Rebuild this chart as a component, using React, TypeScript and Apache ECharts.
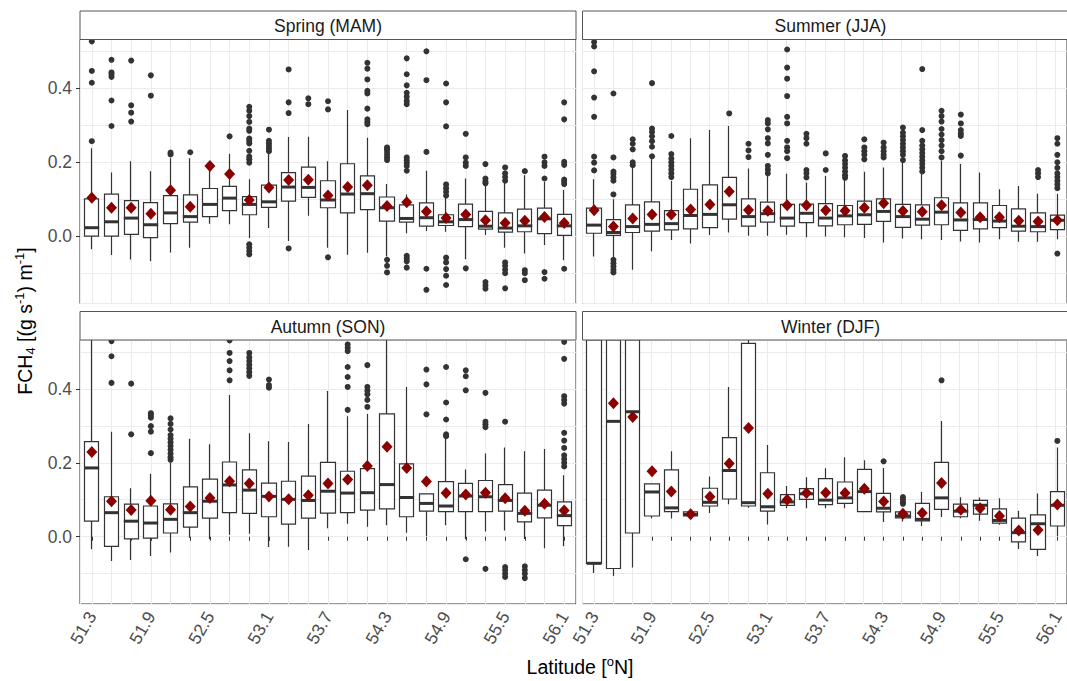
import React, { useEffect, useRef } from "react";
import * as echarts from "echarts";

const latitudes = ["51.3","51.5","51.7","51.9","52.1","52.3","52.5","52.7","52.9","53.1","53.3","53.5","53.7","53.9","54.1","54.3","54.5","54.7","54.9","55.1","55.3","55.5","55.7","55.9","56.1"];
const yTickValues = [0, 0.2, 0.4];

// ---------- Spring (MAM) ----------
const springLo = [-0.035,-0.051,-0.063,-0.068,-0.044,-0.031,0.034,0.032,-0.005,0.022,-0.013,0.055,-0.031,-0.05,-0.045,-0.055,0.008,0.014,0.012,-0.062,0.003,-0.031,-0.047,-0.024,-0.065];
const springQ1 = [0.0,0.0,0.005,-0.004,0.034,0.038,0.053,0.069,0.058,0.078,0.095,0.105,0.077,0.063,0.072,0.041,0.038,0.027,0.029,0.026,0.019,0.011,0.012,0.007,0.002];
const springMed = [0.023,0.039,0.049,0.031,0.063,0.053,0.086,0.103,0.086,0.093,0.133,0.132,0.098,0.114,0.115,0.077,0.048,0.05,0.039,0.045,0.027,0.022,0.028,0.047,0.028];
const springQ3 = [0.101,0.114,0.096,0.091,0.11,0.112,0.129,0.135,0.107,0.138,0.172,0.187,0.15,0.196,0.163,0.106,0.085,0.09,0.058,0.087,0.067,0.063,0.073,0.076,0.059];
const springHi = [0.238,0.172,0.203,0.176,0.211,0.211,0.18,0.223,0.154,0.225,0.268,0.269,0.203,0.341,0.266,0.141,0.113,0.177,0.109,0.156,0.14,0.145,0.165,0.147,0.125];
const springMean = [0.104,0.077,0.077,0.061,0.124,0.08,0.19,0.168,0.098,0.132,0.152,0.153,0.11,0.133,0.138,0.082,0.092,0.067,0.049,0.059,0.043,0.036,0.042,0.052,0.036];
const springOut = [
  [0.257,0.415,0.447,0.527,0.545],
  [0.298,0.367,0.431,0.438,0.443,0.477],
  [0.31,0.334,0.354,0.475,0.535],
  [0.38,0.435],
  [0.221,0.226],
  [0.227],
  [],
  [0.27],
  [0.199,0.208,0.215,0.231,0.251,0.258,0.264,0.285,0.291,0.309,0.325,0.339,0.35,-0.022,-0.031,-0.04,-0.049],
  [0.23,0.237,0.244,0.251,0.258,0.288],
  [0.333,0.362,0.451,-0.033],
  [0.357,0.373],
  [0.343,0.365,-0.057],
  [],
  [0.303,0.309,0.316,0.345,0.386,0.393,0.424,0.453,0.469],
  [0.206,0.213,0.22,0.228,0.235,0.24,-0.064,-0.08,-0.098],
  [0.177,0.19,0.198,0.205,0.213,0.357,0.366,0.377,0.388,0.408,0.438,0.481,0.535,-0.053,-0.06,-0.068,-0.085],
  [0.228,0.422,0.5,-0.088,-0.145],
  [0.11,0.12,0.13,0.14,0.297,0.362,0.413,-0.058,-0.071,-0.089,-0.107,-0.132],
  [0.19,0.199,0.213,0.277,-0.087],
  [0.143,0.148,0.156,0.195,-0.124,-0.133,-0.142],
  [0.15,0.16,0.17,0.186,-0.071,-0.08,-0.09,-0.1,-0.141],
  [0.176,-0.092,-0.1,-0.119],
  [0.156,0.19,0.2,0.215,-0.097,-0.115],
  [0.141,0.147,0.153,0.193,0.201,0.316,0.362,-0.088],
];

// ---------- Summer (JJA) ----------
const summerLo = [-0.055,-0.058,-0.091,-0.041,-0.01,-0.02,0.003,0.01,0.001,0.001,0.004,-0.003,-0.001,-0.003,-0.005,-0.017,-0.006,-0.008,-0.01,-0.014,-0.017,-0.008,-0.015,-0.015,-0.008];
const summerQ1 = [0.008,0.002,0.01,0.014,0.017,0.02,0.023,0.046,0.027,0.038,0.027,0.037,0.028,0.031,0.032,0.04,0.024,0.03,0.031,0.016,0.02,0.023,0.014,0.012,0.018];
const summerMed = [0.03,0.01,0.026,0.032,0.034,0.056,0.059,0.085,0.053,0.061,0.049,0.062,0.049,0.055,0.058,0.067,0.053,0.046,0.065,0.044,0.045,0.041,0.027,0.026,0.043];
const summerQ3 = [0.076,0.045,0.085,0.093,0.069,0.127,0.139,0.159,0.101,0.092,0.086,0.087,0.088,0.083,0.095,0.101,0.086,0.085,0.104,0.09,0.09,0.083,0.074,0.063,0.057];
const summerHi = [0.154,0.1,0.186,0.208,0.15,0.265,0.287,0.298,0.183,0.168,0.169,0.145,0.163,0.154,0.174,0.186,0.199,0.168,0.204,0.195,0.172,0.127,0.136,0.115,0.115];
const summerMean = [0.07,0.026,0.048,0.059,0.059,0.072,0.086,0.121,0.071,0.069,0.084,0.084,0.07,0.069,0.077,0.089,0.068,0.066,0.084,0.064,0.051,0.051,0.042,0.04,0.043];
const summerOut = [
  [0.178,0.199,0.215,0.323,0.375,0.446,0.513,0.525,0.535],
  [0.113,0.15,0.159,0.168,0.175,0.213,0.386,-0.064,-0.073,-0.082,-0.091,-0.098],
  [0.192,0.2,0.235,0.25,0.262],
  [0.216,0.242,0.257,0.27,0.282,0.291,0.414],
  [0.16,0.17,0.18,0.19,0.2,0.21,0.222,0.271],
  [],
  [],
  [0.332],
  [0.214,0.232,0.25],
  [0.17,0.18,0.19,0.22,0.251,0.265,0.289,0.305,0.314],
  [0.211,0.23,0.24,0.258,0.305,0.323,0.379,0.426,0.456,0.505],
  [0.159,0.17,0.179,0.25,0.265,0.277],
  [0.179,0.224],
  [0.158,0.165,0.175,0.185,0.195,0.205,0.217],
  [0.208,0.22,0.23,0.24,0.262],
  [0.213,0.22,0.23,0.24,0.253],
  [0.206,0.22,0.23,0.24,0.25,0.26,0.27,0.28,0.294],
  [0.175,0.185,0.195,0.205,0.215,0.225,0.235,0.245,0.258,0.287,0.452],
  [0.213,0.23,0.245,0.26,0.275,0.29,0.31,0.325,0.339],
  [0.218,0.271,0.278,0.287,0.305,0.329],
  [],
  [],
  [],
  [0.16,0.17,0.179],
  [0.13,0.14,0.15,0.16,0.17,0.185,0.2,0.22,0.25,0.265,-0.047],
];

// ---------- Autumn (SON) ----------
const autumnLo = [-0.034,-0.066,-0.063,-0.052,-0.043,-0.003,-0.007,0.005,0.008,-0.028,-0.027,-0.036,0.023,0.035,0.027,0.031,0.011,0.002,0.031,-0.007,0.014,0.017,-0.006,-0.031,-0.026];
const autumnQ1 = [0.042,-0.026,-0.006,-0.004,0.01,0.026,0.05,0.065,0.063,0.054,0.034,0.05,0.064,0.065,0.072,0.075,0.054,0.069,0.068,0.068,0.068,0.069,0.04,0.051,0.03];
const autumnMed = [0.186,0.065,0.042,0.037,0.047,0.065,0.096,0.14,0.126,0.109,0.101,0.098,0.123,0.118,0.119,0.141,0.106,0.09,0.083,0.11,0.108,0.098,0.063,0.085,0.057];
const autumnQ3 = [0.257,0.108,0.088,0.083,0.089,0.135,0.156,0.202,0.181,0.145,0.15,0.164,0.201,0.177,0.184,0.332,0.197,0.116,0.149,0.144,0.152,0.141,0.118,0.126,0.094];
const autumnHi = [0.62,0.284,0.131,0.17,0.2,0.265,0.25,0.383,0.28,0.258,0.256,0.305,0.394,0.326,0.332,0.6,0.405,0.116,0.268,0.182,0.225,0.241,0.231,0.237,0.166];
const autumnMean = [0.229,0.096,0.072,0.097,0.073,0.082,0.105,0.15,0.144,0.109,0.101,0.112,0.144,0.155,0.191,0.243,0.186,0.149,0.118,0.114,0.119,0.104,0.07,0.089,0.071];
const autumnOut = [
  [],
  [0.416,0.488,0.529,0.545],
  [0.277,0.414],
  [0.226,0.284,0.299,0.322,0.328,0.334],
  [0.208,0.215,0.225,0.235,0.245,0.255,0.265,0.275,0.29,0.305,0.32],
  [],
  [],
  [0.423,0.45,0.475,0.497,0.531],
  [0.435,0.445,0.455,0.465,0.475,0.485,0.497],
  [0.403,0.41,0.425],
  [],
  [],
  [],
  [0.343,0.405,0.432,0.459,0.502,0.511,0.52],
  [0.351,0.37,0.385,0.395,0.405,0.464],
  [],
  [],
  [0.331,0.412,0.452],
  [0.272,0.277,0.317,0.363,0.459],
  [0.396,0.434,0.45,-0.061],
  [0.296,0.304,0.311,0.389,-0.087],
  [0.311,-0.082,-0.09,-0.1,-0.109],
  [-0.08,-0.09,-0.1,-0.112],
  [],
  [0.19,0.2,0.21,0.22,0.24,0.26,0.281,0.36,0.37,0.38,0.481,0.527],
];

// ---------- Winter (DJF) ----------
const winterLo = [-0.098,-0.106,-0.083,0.05,0.049,0.056,0.064,0.088,0.078,0.033,0.077,0.077,0.077,0.077,0.068,0.04,0.041,0.029,0.053,0.05,0.043,0.032,-0.033,-0.052,0.002];
const winterQ1 = [-0.072,-0.086,0.01,0.056,0.068,0.056,0.083,0.102,0.083,0.069,0.085,0.101,0.087,0.09,0.068,0.067,0.051,0.043,0.074,0.054,0.061,0.037,-0.014,-0.034,0.029];
const winterMed = [-0.072,0.312,0.338,0.121,0.078,0.06,0.093,0.179,0.092,0.081,0.094,0.116,0.099,0.105,0.122,0.077,0.056,0.047,0.105,0.069,0.085,0.044,0.011,0.035,0.085];
const winterQ3 = [0.9,0.8,0.75,0.143,0.181,0.067,0.131,0.268,0.523,0.173,0.114,0.13,0.157,0.148,0.182,0.117,0.067,0.09,0.201,0.088,0.098,0.075,0.05,0.059,0.122];
const winterHi = [1.2,1.1,1.0,0.143,0.231,0.067,0.163,0.405,0.6,0.248,0.137,0.161,0.185,0.215,0.207,0.186,0.067,0.121,0.313,0.107,0.106,0.104,0.07,0.117,0.241];
const winterMean = [0.65,0.361,0.324,0.177,0.122,0.061,0.108,0.198,0.294,0.116,0.1,0.118,0.119,0.118,0.13,0.095,0.062,0.064,0.145,0.073,0.077,0.056,0.017,0.018,0.087];
const winterOut = [
  [],[],[],[],[],[],[],[],[],[],[],[],[],[],[],
  [0.204],
  [0.089,0.093,0.1,0.107],
  [],
  [0.423],
  [],[],[],[],[],
  [0.259],
];

const FONT = "'Liberation Sans', Arial, Helvetica, sans-serif";
const YMIN = -0.182;
const YMAX = 0.532;
const PANEL_W = 496;
const PANEL_H = 264;
const UNIT = PANEL_W / 25.2;
const BORDER = "#333333";
const GRID = "#EBEBEB";
const TEXT = "#4D4D4D";

// coord_cartesian-like clipping of box geometry to the visible panel range
const clampY = (v: number) => Math.max(YMIN, Math.min(YMAX, v));

type Season = {
  name: string;
  lo: number[]; q1: number[]; med: number[]; q3: number[]; hi: number[]; mean: number[]; out: number[][];
};

const seasons: Season[] = [
  { name: "Spring (MAM)", lo: springLo, q1: springQ1, med: springMed, q3: springQ3, hi: springHi, mean: springMean, out: springOut },
  { name: "Summer (JJA)", lo: summerLo, q1: summerQ1, med: summerMed, q3: summerQ3, hi: summerHi, mean: summerMean, out: summerOut },
  { name: "Autumn (SON)", lo: autumnLo, q1: autumnQ1, med: autumnMed, q3: autumnQ3, hi: autumnHi, mean: autumnMean, out: autumnOut },
  { name: "Winter (DJF)", lo: winterLo, q1: winterQ1, med: winterMed, q3: winterQ3, hi: winterHi, mean: winterMean, out: winterOut },
];

const panelPos = [
  { left: 80, top: 39.5, stripTop: 11, showX: false, showY: true },
  { left: 582.5, top: 39.5, stripTop: 11, showX: false, showY: false },
  { left: 80, top: 340, stripTop: 311.5, showX: true, showY: true },
  { left: 582.5, top: 340, stripTop: 311.5, showX: true, showY: false },
];

function buildOption() {
  const grid: any[] = [];
  const xAxis: any[] = [];
  const yAxis: any[] = [];
  const series: any[] = [];
  const graphic: any[] = [];

  seasons.forEach((s, k) => {
    const p = panelPos[k];
    const bgGrid = grid.length;
    grid.push({ left: p.left, top: p.top, width: PANEL_W, height: PANEL_H, show: true, borderColor: BORDER, borderWidth: 1, backgroundColor: "#fff" });
    const dataGrid = grid.length;
    grid.push({ left: p.left + 0.1 * UNIT, top: p.top, width: 25 * UNIT, height: PANEL_H });

    xAxis.push({
      type: "value", gridIndex: bgGrid, min: -0.6, max: 24.6, splitNumber: 25,
      axisLine: { show: false }, axisTick: { show: false }, axisLabel: { show: false },
      splitLine: { show: true, lineStyle: { color: GRID, width: 1 } },
    });
    const dataX = xAxis.length;
    xAxis.push({
      type: "category", gridIndex: dataGrid, data: latitudes, boundaryGap: true,
      axisLine: { show: false },
      axisTick: { show: p.showX, alignWithLabel: true, interval: 0, length: 4, lineStyle: { color: BORDER } },
      axisLabel: { show: p.showX, interval: 2, rotate: 60, margin: 9, fontSize: 17.5, color: TEXT, fontFamily: FONT },
      splitLine: { show: false },
    });
    yAxis.push({
      type: "value", gridIndex: bgGrid, min: YMIN, max: YMAX, splitNumber: 7, position: "left",
      axisLine: { show: false }, axisTick: { show: false }, axisLabel: { show: false },
      splitLine: { show: true, lineStyle: { color: GRID, width: 1 } },
    });
    yAxis.push({
      type: "value", gridIndex: bgGrid, min: YMIN, max: YMAX, position: "left",
      axisLine: { show: false },
      axisTick: { show: p.showY, customValues: yTickValues, length: 4, lineStyle: { color: BORDER } },
      axisLabel: { show: p.showY, customValues: yTickValues, formatter: (v: number) => v.toFixed(1), margin: 8, fontSize: 17.5, color: TEXT, fontFamily: FONT },
      splitLine: { show: false },
    });
    const dataY = yAxis.length;
    yAxis.push({ type: "value", gridIndex: dataGrid, min: YMIN, max: YMAX, show: false, splitLine: { show: false } });

    series.push({
      type: "candlestick", name: s.name + " box", xAxisIndex: dataX, yAxisIndex: dataY, clip: true,
      barWidth: 0.75 * UNIT,
      data: s.q1.map((q, i) => [clampY(s.q1[i]), clampY(s.q3[i]), clampY(s.lo[i]), clampY(s.hi[i])]),
      itemStyle: { color: "#fff", color0: "#fff", borderColor: BORDER, borderColor0: BORDER, borderColorDoji: BORDER, borderWidth: 1.2, opacity: 1 },
      z: 2,
    });
    const outData: number[][] = [];
    s.out.forEach((arr, i) => arr.forEach((v) => outData.push([i, v])));
    series.push({
      type: "scatter", name: s.name + " outliers", xAxisIndex: dataX, yAxisIndex: dataY, clip: true,
      symbol: "circle", symbolSize: 6, data: outData,
      itemStyle: { color: "#333333", opacity: 1 }, z: 3,
    });
    series.push({
      type: "scatter", name: s.name + " median", xAxisIndex: dataX, yAxisIndex: dataY, clip: true,
      symbol: "rect", symbolSize: [0.75 * UNIT, 3], data: s.med.map((m, i) => [i, m]),
      itemStyle: { color: "#333333", opacity: 1 }, z: 4,
    });
    series.push({
      type: "scatter", name: s.name + " mean", xAxisIndex: dataX, yAxisIndex: dataY, clip: true,
      symbol: "diamond", symbolSize: [11, 12], data: s.mean.map((m, i) => [i, m]),
      itemStyle: { color: "#8B0000", opacity: 1 }, z: 5,
    });

    graphic.push({
      type: "rect", z: 10,
      shape: { x: p.left, y: p.stripTop, width: PANEL_W, height: p.top - p.stripTop },
      style: { fill: "#fff", stroke: "#555", lineWidth: 1 },
    });
    graphic.push({
      type: "text", z: 11,
      x: p.left + PANEL_W / 2, y: (p.stripTop + p.top) / 2 + 1,
      style: { text: s.name, fontSize: 17.5, fontFamily: FONT, fill: "#1A1A1A", align: "center", verticalAlign: "middle" },
    });
  });

  graphic.push({
    type: "text", z: 11, x: 580, y: 667,
    style: {
      text: "{a|Latitude [}{c|o}{a|N]}",
      align: "center", verticalAlign: "middle", fill: "#000",
      rich: {
        a: { fontSize: 19.5, fontFamily: FONT, fill: "#000", lineHeight: 24 },
        c: { fontSize: 13, fontFamily: FONT, fill: "#000", verticalAlign: "top", lineHeight: 16 },
      },
    },
  });
  graphic.push({
    type: "text", z: 11, x: 25, y: 321, rotation: Math.PI / 2,
    style: {
      text: "{a|FCH}{b|4}{a| [(g s}{c|-1}{a|) m}{c|-1}{a|]}",
      align: "center", verticalAlign: "middle", fill: "#000",
      rich: {
        a: { fontSize: 19.5, fontFamily: FONT, fill: "#000", lineHeight: 24 },
        b: { fontSize: 13, fontFamily: FONT, fill: "#000", verticalAlign: "bottom", lineHeight: 16 },
        c: { fontSize: 13, fontFamily: FONT, fill: "#000", verticalAlign: "top", lineHeight: 16 },
      },
    },
  });

  return { animation: false, backgroundColor: "#fff", grid, xAxis, yAxis, series, graphic };
}

export default function App() {
  const ref = useRef<HTMLDivElement>(null);
  useEffect(() => {
    if (!ref.current) return;
    const chart = echarts.init(ref.current, undefined, { renderer: "svg" });
    chart.setOption(buildOption() as any);
    return () => chart.dispose();
  }, []);
  return <div ref={ref} style={{ position: "fixed", left: 0, top: 0, width: 1067, height: 681, background: "#fff" }} />;
}
